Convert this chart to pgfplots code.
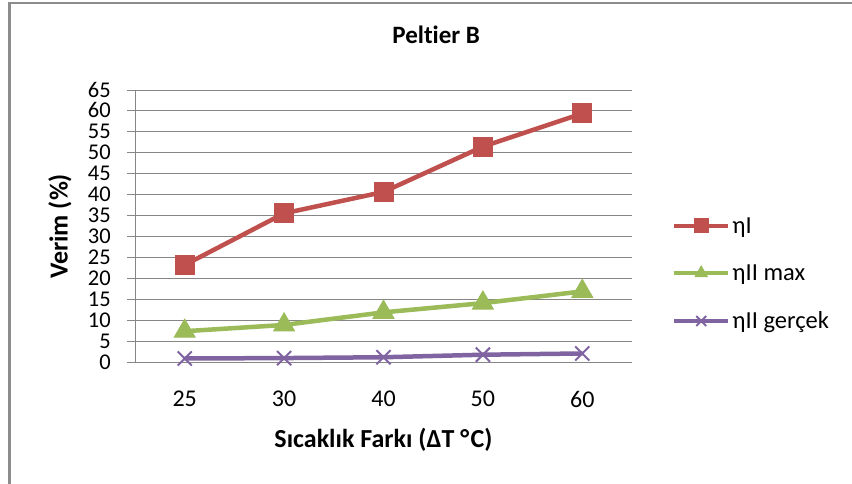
\documentclass[border=0pt]{standalone}
\usepackage{pgfplots}
\pgfplotsset{compat=1.18}
\usepackage{fontspec}
\setmainfont{Carlito}[Ligatures=NoCommon]
\definecolor{cred}{HTML}{C0504D}
\definecolor{cgreen}{HTML}{9BBB59}
\definecolor{cpurple}{HTML}{8064A2}
\definecolor{gridc}{HTML}{868686}
\definecolor{framec}{HTML}{8C8C8C}
\begin{document}
\begin{tikzpicture}
\path[use as bounding box] (0pt,0pt) rectangle (852pt,484pt);
\clip (0pt,0pt) rectangle (852pt,484pt);
\fill[white] (0pt,0pt) rectangle (852pt,484pt);
\draw[framec, line width=2.5pt] (9.5pt,-10pt) -- (9.5pt,481pt) -- (900pt,481pt);
\begin{axis}[
  at={(135pt,121.3pt)}, anchor=south west, scale only axis,
  width=497pt, height=272.7pt,
  xmin=-0.5, xmax=4.5, ymin=0, ymax=65,
  xtick={0,1,2,3,4}, xticklabels={25,30,40,50,60},
  ytick={0,5,...,65},
  axis lines=left, axis line style={-, draw=gridc, line width=1pt},
  ymajorgrids, grid style={draw=gridc, line width=1pt},
  tick align=outside, major tick length=8pt,
  ytick style={draw=gridc, line width=1pt},
  xtick style={draw=none},
  /pgf/number format/assume math mode=true,
  ticklabel style={font=\fontsize{24}{24}\selectfont, text=black},
  yticklabel style={inner sep=0pt, xshift=-16pt, font=\fontsize{22.5}{22.5}\selectfont, text height=14pt, text depth=0pt},
  xticklabel style={inner sep=0pt, anchor=north, yshift=-20pt},
  title={\textbf{Peltier B}},
  title style={font=\fontsize{25}{25}\selectfont, at={(axis description cs:0.606,1.18)}, anchor=center},
  xlabel={\textbf{Sıcaklık Farkı (ΔT °\kern1.5pt C)}},
  xlabel style={font=\fontsize{26}{26}\selectfont, at={(axis description cs:0.5,-0.283)}, anchor=center},
  ylabel={\textbf{Verim (\%)}},
  ylabel style={font=\fontsize{26}{26}\selectfont, at={(axis description cs:-0.151,0.5)}, anchor=center},
  legend cell align=left,
  legend style={at={(axis description cs:1.08,0.326)}, anchor=west, draw=none, fill=none,
    row sep=26pt, font=\fontsize{24.5}{24.5}\selectfont, inner sep=0pt},
  legend image code/.code={\draw[#1, mark size=7pt, mark repeat=2, mark phase=2] plot coordinates {(0pt,0pt) (27pt,0pt) (54pt,0pt)};},
]
\addplot[color=cred, line width=4.5pt, mark=square*, mark size=9.5pt, mark options={line width=1pt, fill=cred}]
  coordinates {(0,23.3) (1,35.6) (2,40.7) (3,51.5) (4,59.4)};
\addlegendentry{ηI}
\addplot[color=cgreen, line width=4.5pt, mark=triangle*, mark size=12pt, mark options={line width=1pt, fill=cgreen}]
  coordinates {(0,7.5) (1,9.0) (2,12.0) (3,14.2) (4,17.0)};
\addlegendentry{ηII max}
\addplot[color=cpurple, line width=4.5pt, mark=x, mark size=10pt, mark options={line width=2pt}]
  coordinates {(0,1.0) (1,1.1) (2,1.3) (3,1.9) (4,2.2)};
\addlegendentry{ηII gerçek}
\end{axis}
\end{tikzpicture}
\end{document}
